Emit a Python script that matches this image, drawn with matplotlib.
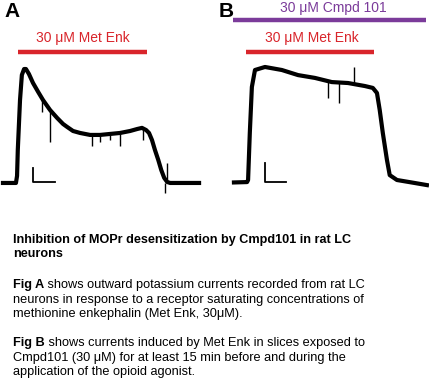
import matplotlib
matplotlib.use('Agg')
import matplotlib.pyplot as plt

plt.rcParams['font.family'] = ['Liberation Sans', 'DejaVu Sans']

# Panel A recording (time in s, current in pA)
a_t = [0, 35, 38, 40, 46, 51, 57, 62, 70, 81, 95, 108, 127, 146, 162, 173, 189, 208,
       235, 262, 289, 316, 343, 362, 375, 386, 394, 402, 410, 419, 427, 435, 443, 451, 529]
a_i = [0, 0, 50, 234, 589, 767, 809, 809, 774, 710, 646, 589, 518, 462, 419, 398, 369, 355,
       341, 341, 348, 355, 369, 383, 391, 376, 355, 305, 234, 163, 92, 36, 7, 0, 0]
# brief transients on trace A: time, start, tip
a_spk_t = [127, 105, 240, 262, 289, 316, 378, 443, 437]
a_spk_from = [518, 589, 341, 341, 348, 355, 391, 0, 0]
a_spk_to = [291, 504, 263, 291, 305, 263, 305, 142, -71]

# Panel B recording (Cmpd101 pre-treated)
b_t = [0, 38, 41, 46, 52, 61, 90, 139, 186, 235, 284, 331, 380, 403, 415, 423,
       432, 444, 452, 473, 525, 560]
b_i = [3, 5, 16, 265, 509, 599, 615, 599, 572, 557, 535, 530, 514, 504, 477, 387,
       265, 122, 42, 16, 0, -11]
b_spk_t = [348, 273, 305]
b_spk_from = [519, 535, 530]
b_spk_to = [615, 451, 424]

# drug applications (start, end in s)
a_metenk = [40, 389]
b_metenk = [35, 406]
b_cmpd = [-3, 557]

# scale bars: 100 pA, 60 s
bar_pa = 100
bar_s = 60

red = '#d9252b'
purple = '#7b3b9a'

fig = plt.figure(figsize=(4.29, 3.89), dpi=100)
W, H = 429, 389


def px_axes(x0, y0, w, h):
    return fig.add_axes([x0 / W, 1 - (y0 + h) / H, w / W, h / H])


axA = px_axes(0, 0, 215, 200)
axA.set_xlim(-8, 572)
axA.set_ylim(-121, 1299)
axB = px_axes(215, 0, 214, 200)
axB.set_xlim(-55, 566)
axB.set_ylim(-90, 970)

for ax in (axA, axB):
    ax.axis('off')

# trace A
axA.plot(a_t, a_i, color='black', lw=3.0, solid_joinstyle='round')
axA.vlines(a_spk_t, a_spk_from, a_spk_to, color='black', lw=1.0)
axA.plot(a_metenk, [930, 930], color=red, lw=3.2, solid_capstyle='butt')
axA.text(sum(a_metenk) / 2, 1030, '30 μM Met Enk', color=red, fontsize=10,
         ha='center', va='center')
axA.plot([81, 81, 81 + bar_s], [7 + bar_pa, 7, 7], color='black', lw=1.3)

# trace B
axB.plot(b_t, b_i, color='black', lw=3.0, solid_joinstyle='round')
axB.vlines(b_spk_t, b_spk_from, b_spk_to, color='black', lw=1.0)
axB.plot(b_cmpd, [864, 864], color=purple, lw=3.2, solid_capstyle='butt')
axB.text(287, 928, '30 μM Cmpd 101', color=purple, fontsize=10,
         ha='center', va='center')
axB.plot(b_metenk, [694, 694], color=red, lw=3.2, solid_capstyle='butt')
axB.text(226, 769, '30 μM Met Enk', color=red, fontsize=10,
         ha='center', va='center')
axB.plot([90, 90, 90 + bar_s], [5 + bar_pa, 5, 5], color='black', lw=1.3)

# panel letters
fig.text(4 / W, 1 - 2 / H, 'A', fontsize=15, fontweight='bold', va='top')
fig.text(219 / W, 1 - 2 / H, 'B', fontsize=15, fontweight='bold', va='top')

# caption
left = 13 / W
fig.text(left, 1 - 243 / H, 'Inhibition of MOPr desensitization by Cmpd101 in rat LC',
         fontsize=9.1, fontweight='bold', va='baseline')
fig.text(left, 1 - 257 / H, 'neurons', fontsize=9.1, fontweight='bold', va='baseline')

paragraphs = [
    ('Fig A', [' shows outward potassium currents recorded from rat LC',
               'neurons in response to a receptor saturating concentrations of',
               'methionine enkephalin (Met Enk, 30μM).'], 288),
    ('Fig B', [' shows currents induced by Met Enk in slices exposed to',
               'Cmpd101 (30 μM) for at least 15 min before and during the',
               'application of the opioid agonist.'], 346),
]

fig.canvas.draw()
renderer = fig.canvas.get_renderer()
for head, lines, y0 in paragraphs:
    t = fig.text(left, 1 - y0 / H, head, fontsize=9.2, fontweight='bold', va='baseline')
    x1 = t.get_window_extent(renderer).x1 / fig.bbox.width
    fig.text(x1, 1 - y0 / H, lines[0], fontsize=9.2, va='baseline')
    for k, line in enumerate(lines[1:], start=1):
        fig.text(left, 1 - (y0 + 14.5 * k) / H, line, fontsize=9.2, va='baseline')

fig.savefig('out.png', dpi=100)
